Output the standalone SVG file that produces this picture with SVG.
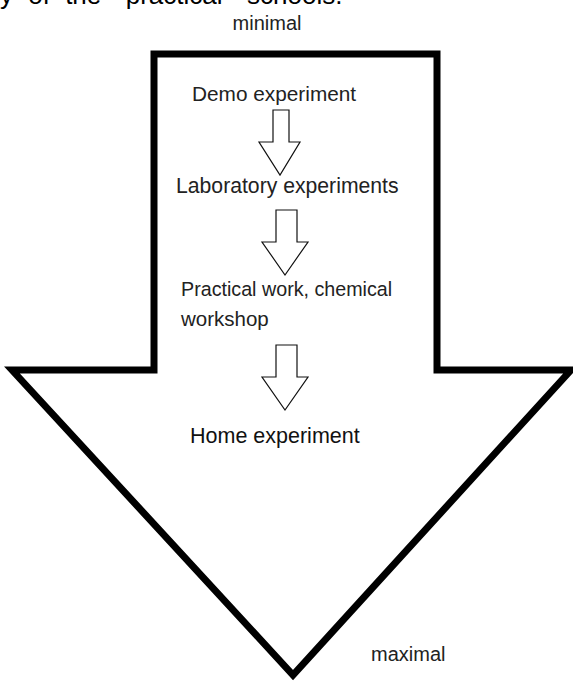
<svg xmlns="http://www.w3.org/2000/svg" width="573" height="682" viewBox="0 0 573 682">
<style>
.big{fill:#fff;stroke:#000;stroke-width:7;stroke-linejoin:miter}
.small{fill:#fff;stroke:#111;stroke-width:1.2}
.lbl{font-family:"Liberation Sans",Arial,sans-serif;font-size:20px;fill:#222}
.top{font-family:"Liberation Sans",Arial,sans-serif;font-size:26px;fill:#000;word-spacing:8px}
</style>
<rect width="573" height="682" fill="#fff"/>
<text class="top" x="0" y="4">y of the "practical" schools.</text>
<g id="outer-arrow">
<polygon class="big" points="154,54 437,54 437,370 571,370 293,675 12,370 154,370"/>
</g>
<g id="minimal"><text class="lbl" x="267" y="30" text-anchor="middle">minimal</text></g>
<g id="demo"><text class="lbl" x="192" y="101" style="font-size:20.8px">Demo experiment</text></g>
<g id="lab"><text class="lbl" x="176" y="193" style="font-size:21.2px">Laboratory experiments</text></g>
<g id="practical"><text class="lbl" x="181" y="296" style="font-size:19.7px">Practical work, chemical</text><text class="lbl" x="181" y="326" style="font-size:20.5px">workshop</text></g>
<g id="home"><text class="lbl" x="190" y="443" style="font-size:21.5px;fill:#111">Home experiment</text></g>
<g id="maximal"><text class="lbl" x="371" y="661">maximal</text></g>
<g id="connectors">
<polygon class="small" points="273,110 289,110 289,142 300,142 280,175 259,142 273,142"/>
<polygon class="small" points="276,210 297,210 297,242 308,242 285,275 262,242 276,242"/>
<polygon class="small" points="276,345 297,345 297,377 308,377 285,410 262,377 276,377"/>
</g>
</svg>
